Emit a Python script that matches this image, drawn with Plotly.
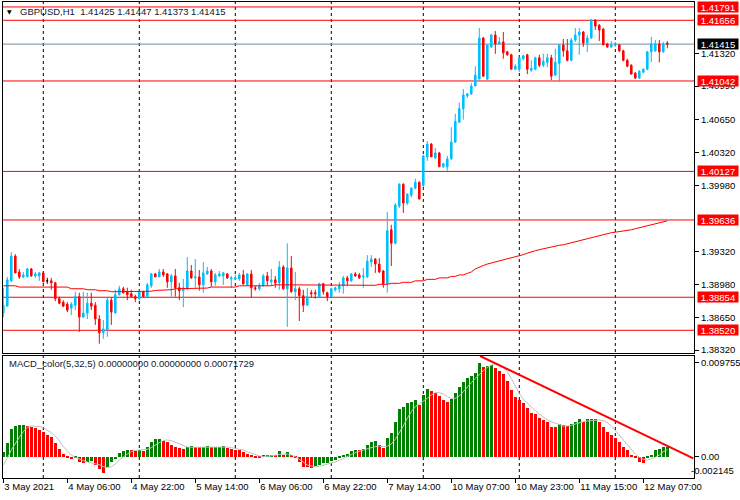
import pandas as pd
import plotly.graph_objects as go

# ---------------- data ----------------
symbol = "GBPUSD,H1"
times = pd.date_range("2021-05-03 14:00", "2021-05-07 22:00", freq="h").append(
    pd.date_range("2021-05-10 00:00", "2021-05-12 13:00", freq="h"))

open_ = [1.38694, 1.38764, 1.39020, 1.39270, 1.39110, 1.39060, 1.39060, 1.39140, 1.39070, 1.39070,
         1.39100, 1.39020, 1.39020, 1.39000, 1.38840, 1.38804, 1.38784, 1.38744, 1.38774, 1.38860,
         1.38654, 1.38694, 1.38794, 1.38774, 1.38634, 1.38494, 1.38524, 1.38824, 1.38694, 1.38880,
         1.38940, 1.38910, 1.38890, 1.38860, 1.38840, 1.38910, 1.38860, 1.38970, 1.39090, 1.39060,
         1.39110, 1.39090, 1.39010, 1.39070, 1.38950, 1.38920, 1.38940, 1.39120, 1.39050, 1.39060,
         1.38980, 1.39090, 1.39120, 1.39010, 1.39070, 1.39070, 1.39090, 1.39040, 1.39040, 1.39040,
         1.39080, 1.38980, 1.39090, 1.38950, 1.38940, 1.38970, 1.39070, 1.39010, 1.39030, 1.39000,
         1.39160, 1.38940, 1.39150, 1.38910, 1.38940, 1.38870, 1.38774, 1.38900, 1.38900, 1.38860,
         1.38990, 1.38900, 1.38860, 1.38930, 1.38940, 1.38970, 1.39050, 1.39020, 1.39090, 1.39080,
         1.39060, 1.39060, 1.39210, 1.39240, 1.39190, 1.39120, 1.38990, 1.39537, 1.39400, 1.39777,
         1.39997, 1.39807, 1.39887, 1.39957, 1.40017, 1.39987, 1.40274, 1.40404, 1.40264, 1.40314,
         1.40174, 1.40174, 1.40254, 1.40424, 1.40624, 1.40761, 1.40891, 1.40911, 1.40991, 1.41061,
         1.41477, 1.41061, 1.41387, 1.41507, 1.41417, 1.41437, 1.41337, 1.41307, 1.41161, 1.41161,
         1.41267, 1.41307, 1.41151, 1.41161, 1.41277, 1.41201, 1.41231, 1.41277, 1.41101, 1.41221,
         1.41407, 1.41347, 1.41251, 1.41457, 1.41507, 1.41537, 1.41427, 1.41477, 1.41657, 1.41607,
         1.41567, 1.41417, 1.41387, 1.41407, 1.41407, 1.41347, 1.41251, 1.41201, 1.41121, 1.41071,
         1.41131, 1.41161, 1.41337, 1.41347, 1.41417, 1.41337, 1.41425]
high = [1.38950, 1.39060, 1.39310, 1.39290, 1.39140, 1.39110, 1.39150, 1.39150, 1.39110, 1.39110,
        1.39110, 1.39050, 1.39050, 1.39010, 1.38860, 1.38824, 1.38804, 1.38804, 1.38910, 1.38900,
        1.38910, 1.38900, 1.38900, 1.38804, 1.38674, 1.38624, 1.38860, 1.38850, 1.38930, 1.38970,
        1.38960, 1.38950, 1.38930, 1.38880, 1.38930, 1.38920, 1.39000, 1.39100, 1.39100, 1.39140,
        1.39140, 1.39100, 1.39090, 1.39140, 1.39000, 1.39040, 1.39260, 1.39180, 1.39240, 1.39130,
        1.39210, 1.39160, 1.39140, 1.39100, 1.39120, 1.39110, 1.39100, 1.39070, 1.39080, 1.39100,
        1.39130, 1.39100, 1.39130, 1.38970, 1.39000, 1.39090, 1.39110, 1.39140, 1.39070, 1.39220,
        1.39180, 1.39400, 1.39270, 1.39110, 1.38960, 1.38930, 1.38950, 1.38930, 1.38930, 1.39000,
        1.39000, 1.38910, 1.38950, 1.38960, 1.39010, 1.39070, 1.39070, 1.39100, 1.39110, 1.39100,
        1.39150, 1.39280, 1.39280, 1.39250, 1.39250, 1.39130, 1.39717, 1.39587, 1.39807, 1.40007,
        1.40007, 1.39907, 1.39967, 1.40054, 1.40027, 1.40294, 1.40434, 1.40414, 1.40364, 1.40324,
        1.40214, 1.40284, 1.40574, 1.40711, 1.40821, 1.40961, 1.40921, 1.41021, 1.41191, 1.41577,
        1.41487, 1.41407, 1.41517, 1.41547, 1.41487, 1.41537, 1.41347, 1.41317, 1.41211, 1.41287,
        1.41307, 1.41317, 1.41251, 1.41287, 1.41307, 1.41317, 1.41317, 1.41307, 1.41367, 1.41417,
        1.41467, 1.41467, 1.41477, 1.41577, 1.41577, 1.41547, 1.41507, 1.41667, 1.41667, 1.41617,
        1.41577, 1.41427, 1.41447, 1.41437, 1.41417, 1.41357, 1.41267, 1.41211, 1.41131, 1.41151,
        1.41171, 1.41347, 1.41487, 1.41457, 1.41457, 1.41437, 1.41447]
low = [1.38654, 1.38764, 1.39010, 1.39100, 1.39040, 1.39050, 1.39060, 1.39060, 1.39050, 1.39020,
       1.39010, 1.38990, 1.38930, 1.38814, 1.38784, 1.38754, 1.38704, 1.38674, 1.38724, 1.38504,
       1.38644, 1.38634, 1.38724, 1.38574, 1.38384, 1.38434, 1.38454, 1.38574, 1.38694, 1.38870,
       1.38890, 1.38824, 1.38850, 1.38804, 1.38824, 1.38860, 1.38860, 1.38950, 1.39060, 1.39060,
       1.39060, 1.38950, 1.38860, 1.38860, 1.38824, 1.38754, 1.38930, 1.39040, 1.38950, 1.38920,
       1.38900, 1.39080, 1.38960, 1.38970, 1.39060, 1.38980, 1.39040, 1.38950, 1.39030, 1.39020,
       1.38980, 1.38970, 1.38850, 1.38920, 1.38920, 1.38960, 1.38970, 1.38970, 1.38950, 1.38930,
       1.38930, 1.38554, 1.38900, 1.38824, 1.38614, 1.38704, 1.38764, 1.38850, 1.38840, 1.38850,
       1.38880, 1.38814, 1.38850, 1.38910, 1.38900, 1.38890, 1.38970, 1.39010, 1.39060, 1.39040,
       1.38950, 1.39050, 1.39160, 1.39100, 1.39100, 1.38950, 1.38900, 1.39170, 1.39390, 1.39757,
       1.39707, 1.39787, 1.39867, 1.39947, 1.39847, 1.39967, 1.40234, 1.40274, 1.40254, 1.40174,
       1.40164, 1.40134, 1.40244, 1.40414, 1.40624, 1.40651, 1.40871, 1.40901, 1.40991, 1.41061,
       1.41081, 1.41051, 1.41377, 1.41317, 1.41407, 1.41267, 1.41297, 1.41161, 1.41151, 1.41131,
       1.41251, 1.41111, 1.41131, 1.41151, 1.41181, 1.41181, 1.41181, 1.41051, 1.41091, 1.41031,
       1.41287, 1.41241, 1.41241, 1.41437, 1.41307, 1.41387, 1.41337, 1.41467, 1.41557, 1.41447,
       1.41407, 1.41377, 1.41377, 1.41387, 1.41337, 1.41241, 1.41181, 1.41111, 1.41061, 1.41061,
       1.41121, 1.41151, 1.41231, 1.41337, 1.41231, 1.41327, 1.41373]
close = [1.38774, 1.39030, 1.39270, 1.39100, 1.39060, 1.39080, 1.39140, 1.39070, 1.39090, 1.39100,
         1.39010, 1.39020, 1.39000, 1.38840, 1.38794, 1.38764, 1.38724, 1.38784, 1.38860, 1.38654,
         1.38694, 1.38794, 1.38764, 1.38634, 1.38494, 1.38534, 1.38824, 1.38704, 1.38880, 1.38940,
         1.38900, 1.38880, 1.38860, 1.38840, 1.38910, 1.38860, 1.38980, 1.39090, 1.39060, 1.39110,
         1.39080, 1.39010, 1.39070, 1.38950, 1.38920, 1.38950, 1.39120, 1.39050, 1.39060, 1.38980,
         1.39100, 1.39120, 1.39010, 1.39080, 1.39090, 1.39100, 1.39050, 1.39050, 1.39050, 1.39080,
         1.38990, 1.39090, 1.38950, 1.38940, 1.38970, 1.39070, 1.39020, 1.39030, 1.39000, 1.39160,
         1.38940, 1.39150, 1.38910, 1.38940, 1.38870, 1.38774, 1.38860, 1.38890, 1.38890, 1.38990,
         1.38910, 1.38860, 1.38940, 1.38950, 1.38970, 1.39050, 1.39020, 1.39090, 1.39070, 1.39050,
         1.39070, 1.39220, 1.39240, 1.39190, 1.39110, 1.38990, 1.39527, 1.39400, 1.39787, 1.39997,
         1.39807, 1.39897, 1.39957, 1.40017, 1.39847, 1.40284, 1.40404, 1.40274, 1.40314, 1.40174,
         1.40204, 1.40254, 1.40424, 1.40634, 1.40761, 1.40901, 1.40911, 1.40991, 1.41101, 1.41477,
         1.41091, 1.41407, 1.41507, 1.41417, 1.41437, 1.41327, 1.41307, 1.41161, 1.41191, 1.41277,
         1.41297, 1.41161, 1.41171, 1.41277, 1.41201, 1.41241, 1.41277, 1.41091, 1.41231, 1.41407,
         1.41347, 1.41251, 1.41457, 1.41507, 1.41537, 1.41427, 1.41477, 1.41657, 1.41597, 1.41557,
         1.41407, 1.41387, 1.41407, 1.41417, 1.41347, 1.41251, 1.41191, 1.41111, 1.41071, 1.41141,
         1.41161, 1.41337, 1.41417, 1.41417, 1.41337, 1.41417, 1.41415]
moving_avg = [1.38970, 1.38970, 1.38970, 1.38970, 1.38957, 1.38957, 1.38957, 1.38957, 1.38957, 1.38957,
              1.38957, 1.38957, 1.38957, 1.38957, 1.38957, 1.38957, 1.38957, 1.38940, 1.38940, 1.38940,
              1.38940, 1.38930, 1.38930, 1.38930, 1.38920, 1.38920, 1.38920, 1.38910, 1.38910, 1.38910,
              1.38910, 1.38910, 1.38910, 1.38910, 1.38915, 1.38915, 1.38915, 1.38915, 1.38923, 1.38923,
              1.38930, 1.38930, 1.38930, 1.38940, 1.38940, 1.38940, 1.38940, 1.38947, 1.38947, 1.38947,
              1.38947, 1.38947, 1.38957, 1.38957, 1.38957, 1.38957, 1.38957, 1.38957, 1.38957, 1.38970,
              1.38970, 1.38970, 1.38970, 1.38970, 1.38970, 1.38970, 1.38970, 1.38970, 1.38980, 1.38980,
              1.38980, 1.38980, 1.38980, 1.38980, 1.38980, 1.38980, 1.38980, 1.38980, 1.38980, 1.38980,
              1.38980, 1.38980, 1.38980, 1.38980, 1.38980, 1.38980, 1.38980, 1.38980, 1.38980, 1.38980,
              1.38975, 1.38975, 1.38975, 1.38975, 1.38985, 1.38985, 1.38985, 1.38995, 1.38995, 1.38995,
              1.39005, 1.39005, 1.39005, 1.39020, 1.39020, 1.39020, 1.39035, 1.39035, 1.39035, 1.39050,
              1.39050, 1.39050, 1.39065, 1.39065, 1.39080, 1.39080, 1.39095, 1.39110, 1.39140, 1.39160,
              1.39175, 1.39190, 1.39200, 1.39210, 1.39220, 1.39230, 1.39240, 1.39250, 1.39260, 1.39270,
              1.39285, 1.39300, 1.39315, 1.39325, 1.39335, 1.39345, 1.39350, 1.39360, 1.39370, 1.39380,
              1.39385, 1.39395, 1.39405, 1.39415, 1.39425, 1.39442, 1.39452, 1.39462, 1.39472, 1.39482,
              1.39492, 1.39502, 1.39507, 1.39512, 1.39517, 1.39522, 1.39527, 1.39537, 1.39547, 1.39557,
              1.39567, 1.39577, 1.39587, 1.39597, 1.39607, 1.39617, 1.39627]

# horizontal price levels drawn on the chart
levels = [1.41791, 1.41656, 1.41042, 1.40127, 1.39636, 1.38854, 1.38520]
price_ticks = [1.41320, 1.40990, 1.40650, 1.40320, 1.39980,
               1.39320, 1.38980, 1.38650, 1.38320]

# MACD_color(5,32,5), values in units of 1e-5
macd_hist_e5 = [52, 145, 287, 318, 328, 331, 318, 304, 293, 276,
                259, 224, 200, 138, 76, 28, -17, -28, -17, -52,
                -69, -52, -45, -86, -131, -173, -104, -52, -28, 35,
                59, 69, 66, 62, 69, 62, 104, 155, 180, 186,
                166, 155, 121, 97, 86, 76, 104, 107, 100, 97,
                104, 114, 97, 100, 104, 107, 86, 76, 72, 69,
                52, 28, 7, -7, -10, 7, 14, 17, 7, 62,
                17, 52, 14, -7, -52, -104, -110, -114, -97, -86,
                -69, -62, -41, -35, -17, 7, 28, 59, 69, 66,
                76, 121, 155, 159, 121, 86, 190, 242, 362, 490,
                518, 552, 570, 587, 535, 639, 697, 683, 663, 628,
                587, 570, 594, 656, 718, 777, 811, 835, 863, 975.55,
                932, 939, 949, 915, 891, 856, 787, 690, 621, 587,
                559, 501, 456, 442, 397, 380, 362, 311, 307, 338,
                328, 318, 338, 362, 387, 362, 387, 390, 394, 362,
                311, 259, 224, 190, 155, 104, 69, 7, -10, -52,
                -62, -7, 17, 69, 76, 97, 104]
macd_signal_e5 = [-86, -17, 69, 138, 200, 259, 304, 318, 318, 311,
                  300, 276, 249, 214, 166, 104, 59, 17, -7, -28,
                  -41, -55, -62, -69, -83, -104, -114, -104, -76, -35,
                  0, 28, 52, 66, 69, 69, 76, 93, 121, 145,
                  166, 173, 166, 148, 128, 110, 100, 97, 97, 97,
                  100, 104, 104, 104, 104, 104, 100, 93, 86, 79,
                  69, 52, 35, 17, 7, 0, 3, 7, 14, 24,
                  28, 28, 17, 0, -28, -59, -86, -97, -104, -100,
                  -90, -79, -69, -55, -38, -21, 0, 21, 41, 59,
                  69, 83, 97, 104, 110, 104, 110, 131, 180, 242,
                  318, 397, 466, 518, 545, 570, 604, 639, 663, 663,
                  649, 621, 604, 604, 628, 673, 725, 766, 811, 856,
                  891, 925, 949, 960, 949, 925, 880, 811, 725, 656,
                  594, 552, 511, 476, 442, 407, 380, 362, 345, 328,
                  318, 318, 324, 338, 352, 362, 369, 373, 380, 380,
                  373, 352, 318, 276, 224, 173, 121, 69, 28, -7,
                  -28, -35, -24, -7, 17, 52, 72]
macd_label = "MACD_color(5,32,5) 0.00000000 0.00000000 0.00071729"
macd_axis_labels = ["0.0097555", "0.00", "-0.002145"]
# trend line drawn in the MACD window (bar position, value)
trend_bar = [119.2, 172.5]
trend_val = [0.01043, -0.00017]

# ---------------- derived ----------------
n = len(close)
idx = list(range(n))
macd_hist = [v / 1e5 for v in macd_hist_e5]
macd_signal = [v / 1e5 for v in macd_signal_e5]
hist_colors = ["#008000" if (i == 0 or macd_hist[i] > macd_hist[i - 1]) else "#FF0000" for i in idx]
day_starts = [i for i, t in enumerate(times) if t.hour == 0]
tick_idx = list(range(0, n, 16))
tick_txt = [(f"{times[i].day} {times[i]:%b %Y}" if i == 0 else f"{times[i].day} {times[i]:%b %H:%M}")
            for i in tick_idx]

doji = [i for i in idx if open_[i] == close[i]]
body = [i for i in idx if open_[i] != close[i]]

FONT = "Liberation Sans"
FS = 9.5
BLUE = "#00BFFF"
RED = "#FF0000"

fig = go.Figure()
fig.add_trace(go.Candlestick(
    x=body, open=[open_[i] for i in body], high=[high[i] for i in body],
    low=[low[i] for i in body], close=[close[i] for i in body],
    increasing=dict(line=dict(color=BLUE, width=1), fillcolor=BLUE),
    decreasing=dict(line=dict(color=RED, width=1), fillcolor=RED),
    whiskerwidth=0, xaxis="x", yaxis="y", showlegend=False, hoverinfo="skip"))
fig.add_trace(go.Candlestick(
    x=doji, open=[open_[i] for i in doji], high=[high[i] for i in doji],
    low=[low[i] for i in doji], close=[close[i] for i in doji],
    increasing=dict(line=dict(color="black", width=1), fillcolor="black"),
    decreasing=dict(line=dict(color="black", width=1), fillcolor="black"),
    whiskerwidth=0, xaxis="x", yaxis="y", showlegend=False, hoverinfo="skip"))
fig.add_trace(go.Scatter(x=idx, y=moving_avg, mode="lines", line=dict(color=RED, width=1),
                         xaxis="x", yaxis="y", showlegend=False, hoverinfo="skip"))

fig.add_trace(go.Bar(x=idx, y=macd_hist, marker=dict(color=hist_colors, line=dict(width=0)),
                     width=0.75, xaxis="x2", yaxis="y2", showlegend=False, hoverinfo="skip"))
fig.add_trace(go.Scatter(x=idx, y=macd_signal, mode="lines", line=dict(color="#C0C0C0", width=1),
                         xaxis="x2", yaxis="y2", showlegend=False, hoverinfo="skip"))
fig.add_trace(go.Scatter(x=trend_bar, y=trend_val, mode="lines", line=dict(color=RED, width=2),
                         xaxis="x2", yaxis="y2", showlegend=False, hoverinfo="skip"))

shapes = []
for d in day_starts:
    shapes.append(dict(type="line", xref="x", yref="paper", x0=d, x1=d, y0=0, y1=1,
                       line=dict(color="black", width=1, dash="3px,3px"), layer="below"))
for lv in levels:
    shapes.append(dict(type="line", xref="paper", yref="y", x0=0, x1=1, y0=lv, y1=lv,
                       line=dict(color=RED, width=1), layer="below"))
shapes.append(dict(type="line", xref="paper", yref="y", x0=0, x1=1, y0=close[-1], y1=close[-1],
                   line=dict(color="#778899", width=1), layer="below"))

annotations = []
for lv in levels:
    annotations.append(dict(x=1, xref="paper", y=lv, yref="y", xanchor="left", yanchor="middle",
                            xshift=3, text=f"{lv:.5f}", showarrow=False, bgcolor=RED,
                            font=dict(family=FONT, size=FS, color="white"),
                            width=38, height=8, borderpad=1, align="center"))
annotations.append(dict(x=1, xref="paper", y=close[-1], yref="y", xanchor="left", yanchor="middle",
                        xshift=3, text=f"{close[-1]:.5f}", showarrow=False, bgcolor="black",
                        font=dict(family=FONT, size=FS, color="white"),
                        width=38, height=8, borderpad=1, align="center"))
annotations.append(dict(x=1, xref="paper", y=-0.00221, yref="y2", xanchor="left", yanchor="bottom",
                        xshift=-5, text=macd_axis_labels[2], showarrow=False,
                        font=dict(family=FONT, size=FS, color="black")))
annotations.append(dict(x=0.0094, xref="paper", y=0.9805, yref="paper", xanchor="center",
                        yanchor="middle", text="▼", showarrow=False,
                        font=dict(family="DejaVu Sans", size=6, color="black")))
title_txt = (f"{symbol}\u00a0\u00a0{open_[-1]:.5f} {high[-1]:.5f} {low[-1]:.5f} {close[-1]:.5f}")
annotations.append(dict(x=0.0217, xref="paper", y=0.981, yref="paper", xanchor="left",
                        yanchor="middle", text=title_txt, showarrow=False,
                        font=dict(family=FONT, size=FS, color="#101830")))
annotations.append(dict(x=0.0058, xref="paper", y=0.2395, yref="paper", xanchor="left",
                        yanchor="middle", text=macd_label, showarrow=False,
                        font=dict(family=FONT, size=FS, color="#101830")))

xr = [-0.075, 172.675]
axis_common = dict(showline=True, mirror=True, linecolor="black", linewidth=1,
                   showgrid=False, zeroline=False, automargin=False)
fig.update_layout(
    width=740, height=500, margin=dict(l=3, r=46, t=2, b=22, autoexpand=False),
    paper_bgcolor="white", plot_bgcolor="white", boxgap=0.45,
    font=dict(family=FONT, size=FS, color="black"),
    xaxis=dict(domain=[0, 1], anchor="y", range=xr, showticklabels=False, ticks="",
               rangeslider=dict(visible=False), **axis_common),
    xaxis2=dict(domain=[0, 1], anchor="y2", range=xr, matches="x", tickvals=tick_idx,
                ticktext=tick_txt, ticks="outside", ticklen=4, tickcolor="black", tickangle=0,
                ticklabelposition="outside right", tickfont=dict(family=FONT, size=FS, color="black"),
                **axis_common),
    yaxis=dict(domain=[0.2626, 1], anchor="x", side="right", range=[1.38290, 1.41841],
               tickvals=price_ticks, ticktext=[f"{t:.5f}" for t in price_ticks],
               ticks="outside", ticklen=4, tickcolor="black",
               tickfont=dict(family=FONT, size=FS, color="black"), **axis_common),
    yaxis2=dict(domain=[0, 0.2563], anchor="x2", side="right", range=[-0.00221, 0.01043],
                tickvals=[0.0097555, 0.0], ticktext=macd_axis_labels[:2],
                ticks="outside", ticklen=4, tickcolor="black",
                tickfont=dict(family=FONT, size=FS, color="black"), **axis_common),
    bargap=0, shapes=shapes, annotations=annotations,
)
fig.write_html("out.html", config={"displayModeBar": False},
               post_script="document.body.style.margin='0';document.body.style.overflow='hidden';")
